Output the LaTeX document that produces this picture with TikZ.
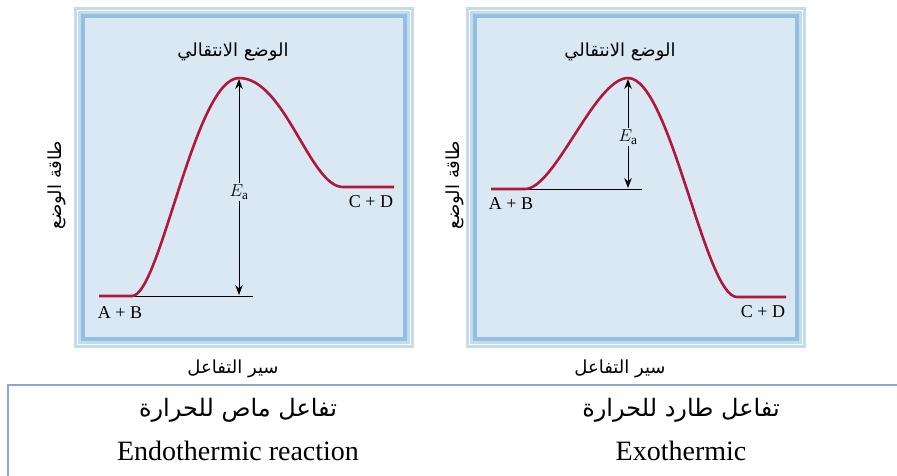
\documentclass[tikz,border=0pt]{standalone}
\usepackage{fontspec}
\setmainfont{Liberation Serif}
\newfontfamily\arabicfont[Script=Arabic]{DejaVu Sans}
\TeXXeTstate=1
\usetikzlibrary{arrows.meta}
\definecolor{panelfill}{HTML}{DAE8F3}
\definecolor{frameout}{HTML}{C3DBEF}
\definecolor{frameline}{HTML}{93BFE3}
\definecolor{curvered}{HTML}{B0173C}
\definecolor{boxline}{HTML}{8AA9D1}
\tikzset{
  energy/.style={draw=curvered, line width=2.6pt, line join=round},
  baseline/.style={draw=black, line width=0.9pt},
  eaarrow/.style={draw=black, line width=0.9pt, -{Stealth[length=10pt,width=7.5pt]}},
  eanode/.style={fill=panelfill, inner sep=1.5pt, font=\fontsize{19}{21}\selectfont},
  species/.style={font=\fontsize{18}{20}\selectfont, inner sep=0pt},
  artitle/.style={font=\arabicfont\fontsize{18}{21}\selectfont, inner sep=0pt},
  caption/.style={font=\fontsize{28}{32}\selectfont, inner sep=0pt},
  arcaption/.style={font=\arabicfont\fontsize{24}{28}\selectfont, inner sep=0pt},
}
\newcommand{\panelframe}[4]{%
  \fill[frameout] (#1,#2) rectangle (#3,#4);
  \draw[white, line width=1pt] (#1+3.5,#2+3.5) rectangle (#3-3.5,#4-3.5);
  \draw[frameline, line width=3.5pt] (#1+9,#2+9) rectangle (#3-9,#4-9);
  \fill[panelfill] (#1+10.75,#2+10.75) rectangle (#3-10.75,#4-10.75);
}
\begin{document}
\begin{tikzpicture}[x=1pt,y=-1pt]
\useasboundingbox (0,0) rectangle (897,475);
\fill[white] (0,0) rectangle (897,475);

% ---------- left panel (endothermic) ----------
\panelframe{74}{7}{414}{348}
\coordinate (lstart) at (99,296);
\coordinate (lbase) at (132,296);
\coordinate (lpeak) at (239,78);
\coordinate (lprod) at (343,187);
\coordinate (lend) at (394,187);
\coordinate (lbaseend) at (253,296);
\coordinate (ltop) at (239,79);
\coordinate (lbot) at (239,295);
\draw[baseline] (lbase) -- (lbaseend);
\path[energy] (lstart) -- (lbase) .. controls (160,296) and (195,78) .. (lpeak)
   .. controls (285,78) and (310,187) .. (lprod) -- (lend);
\node[eanode] (lea) at (239,192) {$E_{\mathrm{a}}$};
\draw[eaarrow] (lea.north) -- (ltop);
\draw[eaarrow] (lea.south) -- (lbot);
\node[species] (lab) at (120,313) {A + B};
\node[species] (lcd) at (371,202) {C + D};
\node[artitle] (lts) at (233,52) {\beginR الوضع الانتقالي\endR};
\node[artitle, rotate=90] (ly) at (57,185) {\beginR طاقة الوضع\endR};
\node[artitle] (lx) at (233,369) {\beginR سير التفاعل\endR};

% ---------- right panel (exothermic) ----------
\panelframe{466}{7}{806}{348}
\coordinate (rstart) at (491,189);
\coordinate (rbase) at (525,189);
\coordinate (rpeak) at (628,78);
\coordinate (rprod) at (737,297);
\coordinate (rend) at (786,297);
\coordinate (rbaseend) at (642,189);
\coordinate (rtop) at (628,79);
\coordinate (rbot) at (628,188);
\draw[baseline] (rbase) -- (rbaseend);
\path[energy] (rstart) -- (rbase) .. controls (555,189) and (595,78) .. (rpeak)
   .. controls (670,78) and (705,297) .. (rprod) -- (rend);
\node[eanode] (rea) at (628,137) {$E_{\mathrm{a}}$};
\draw[eaarrow] (rea.north) -- (rtop);
\draw[eaarrow] (rea.south) -- (rbot);
\node[species] (rab) at (511,204) {A + B};
\node[species] (rcd) at (763,312) {C + D};
\node[artitle] (rts) at (620,52) {\beginR الوضع الانتقالي\endR};
\node[artitle, rotate=90] (ry) at (455,185) {\beginR طاقة الوضع\endR};
\node[artitle] (rx) at (620,369) {\beginR سير التفاعل\endR};

% ---------- bottom caption box ----------
\coordinate (boxbl) at (8,476);
\coordinate (boxtl) at (8,385);
\coordinate (boxtr) at (898,385);
\draw[boxline, line width=2pt] (boxbl) -- (boxtl) -- (boxtr);
\node[arcaption] (endoar) at (238,410) {\beginR تفاعل ماص للحرارة\endR};
\node[caption] (endoen) at (238,451) {Endothermic reaction};
\node[arcaption] (exoar) at (681,410) {\beginR تفاعل طارد للحرارة\endR};
\node[caption] (exoen) at (681,451) {Exothermic};
\end{tikzpicture}
\end{document}
